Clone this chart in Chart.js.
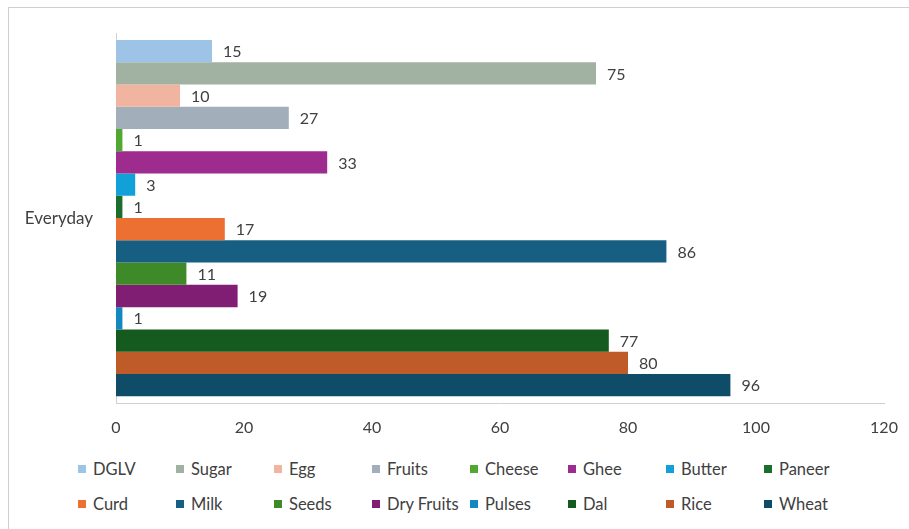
<!DOCTYPE html>
<html>
<head>
<meta charset="utf-8">
<script src="https://cdn.jsdelivr.net/npm/chart.js@4.4.1/dist/chart.umd.min.js"></script>
<style>
    body { margin: 0; background: #fff; width: 909px; height: 529px; overflow: hidden; position: relative; }
    #frame { position: absolute; left: 8px; top: 7px; width: 920px; height: 540px; border: 1px solid #cfcfcf; box-sizing: border-box; }
    #chartWrap { position: absolute; left: 0; top: 0; width: 909px; height: 450px; }
    #legend { position: absolute; left: 78px; top: 460px; display: grid; grid-template-columns: repeat(8, 98px); row-gap: 17px; font-family: Lato, sans-serif; font-size: 16.5px; color: #404040; }
    .item { display: flex; align-items: center; height: 18px; white-space: nowrap; }
    .box { width: 8px; height: 8px; margin-right: 7px; flex: none; }
</style>
</head>
<body>
<div id="frame"></div>
<div id="chartWrap"><canvas id="barChart"></canvas></div>
<div id="legend"></div>
<script>
// Data
const categories = ['Everyday'];
const seriesNames = ['DGLV', 'Sugar', 'Egg', 'Fruits', 'Cheese', 'Ghee', 'Butter', 'Paneer',
    'Curd', 'Milk', 'Seeds', 'Dry Fruits', 'Pulses', 'Dal', 'Rice', 'Wheat'];
const seriesValues = [15, 75, 10, 27, 1, 33, 3, 1, 17, 86, 11, 19, 1, 77, 80, 96];
const xTicks = [0, 20, 40, 60, 80, 100, 120];

// Bar colours, same order as seriesNames
const seriesColors = ['#9dc3e6', '#a1b1a2', '#f1b4a1', '#a2afba', '#50a830', '#9e2b8e', '#12a0d8', '#1b6d2b',
    '#eb7032', '#175f82', '#3f8a28', '#801e74', '#1188c0', '#155a1e', '#bf5b29', '#0f4c68'];

const textColor = '#404040';
const fontFamily = 'Lato, sans-serif';

// Draws the value just past the end of each bar
const valueLabels = {
    id: 'valueLabels',
    afterDatasetsDraw(chart) {
        const ctx = chart.ctx;
        ctx.save();
        ctx.font = '16px ' + fontFamily;
        ctx.fillStyle = textColor;
        ctx.textBaseline = 'middle';
        ctx.textAlign = 'left';
        chart.data.datasets.forEach((ds, i) => {
            const meta = chart.getDatasetMeta(i);
            meta.data.forEach((bar, j) => {
                ctx.fillText(String(ds.data[j]), bar.x + 11, bar.y + 1);
            });
        });
        ctx.restore();
    }
};

const datasets = seriesNames.map((name, i) => ({
    label: name,
    data: [seriesValues[i]],
    backgroundColor: seriesColors[i],
    borderWidth: 0
}));

const chart = new Chart(document.getElementById('barChart'), {
    type: 'bar',
    data: { labels: categories, datasets: datasets },
    options: {
        indexAxis: 'y',
        responsive: true,
        maintainAspectRatio: false,
        animation: false,
        layout: { padding: { left: 0, right: 25, top: 29, bottom: 0 } },
        datasets: { bar: { categoryPercentage: 0.963, barPercentage: 1 } },
        plugins: {
            legend: { display: false },
            tooltip: { enabled: false }
        },
        scales: {
            x: {
                min: 0,
                max: 120,
                afterBuildTicks(scale) {
                    scale.ticks = xTicks.map(v => ({ value: v }));
                },
                afterFit(scale) {
                    scale.height = 47;
                    scale.paddingLeft = 0;
                    scale.paddingRight = 0;
                },
                grid: { display: false, drawTicks: false },
                border: { display: true, color: '#d0d0d0', width: 1 },
                ticks: { padding: 15, color: textColor, font: { family: fontFamily, size: 16 } }
            },
            y: {
                afterFit(scale) { scale.width = 116; },
                grid: { display: false, drawTicks: false },
                border: { display: true, color: '#d0d0d0', width: 1 },
                ticks: { padding: 23, color: textColor, font: { family: fontFamily, size: 17 } }
            }
        }
    },
    plugins: [valueLabels]
});

// HTML legend laid out in a grid like the reference
const legendEl = document.getElementById('legend');
chart.data.datasets.forEach(ds => {
    const item = document.createElement('div');
    item.className = 'item';
    const box = document.createElement('span');
    box.className = 'box';
    box.style.background = ds.backgroundColor;
    const text = document.createElement('span');
    text.textContent = ds.label;
    item.appendChild(box);
    item.appendChild(text);
    legendEl.appendChild(item);
});
</script>
</body>
</html>
